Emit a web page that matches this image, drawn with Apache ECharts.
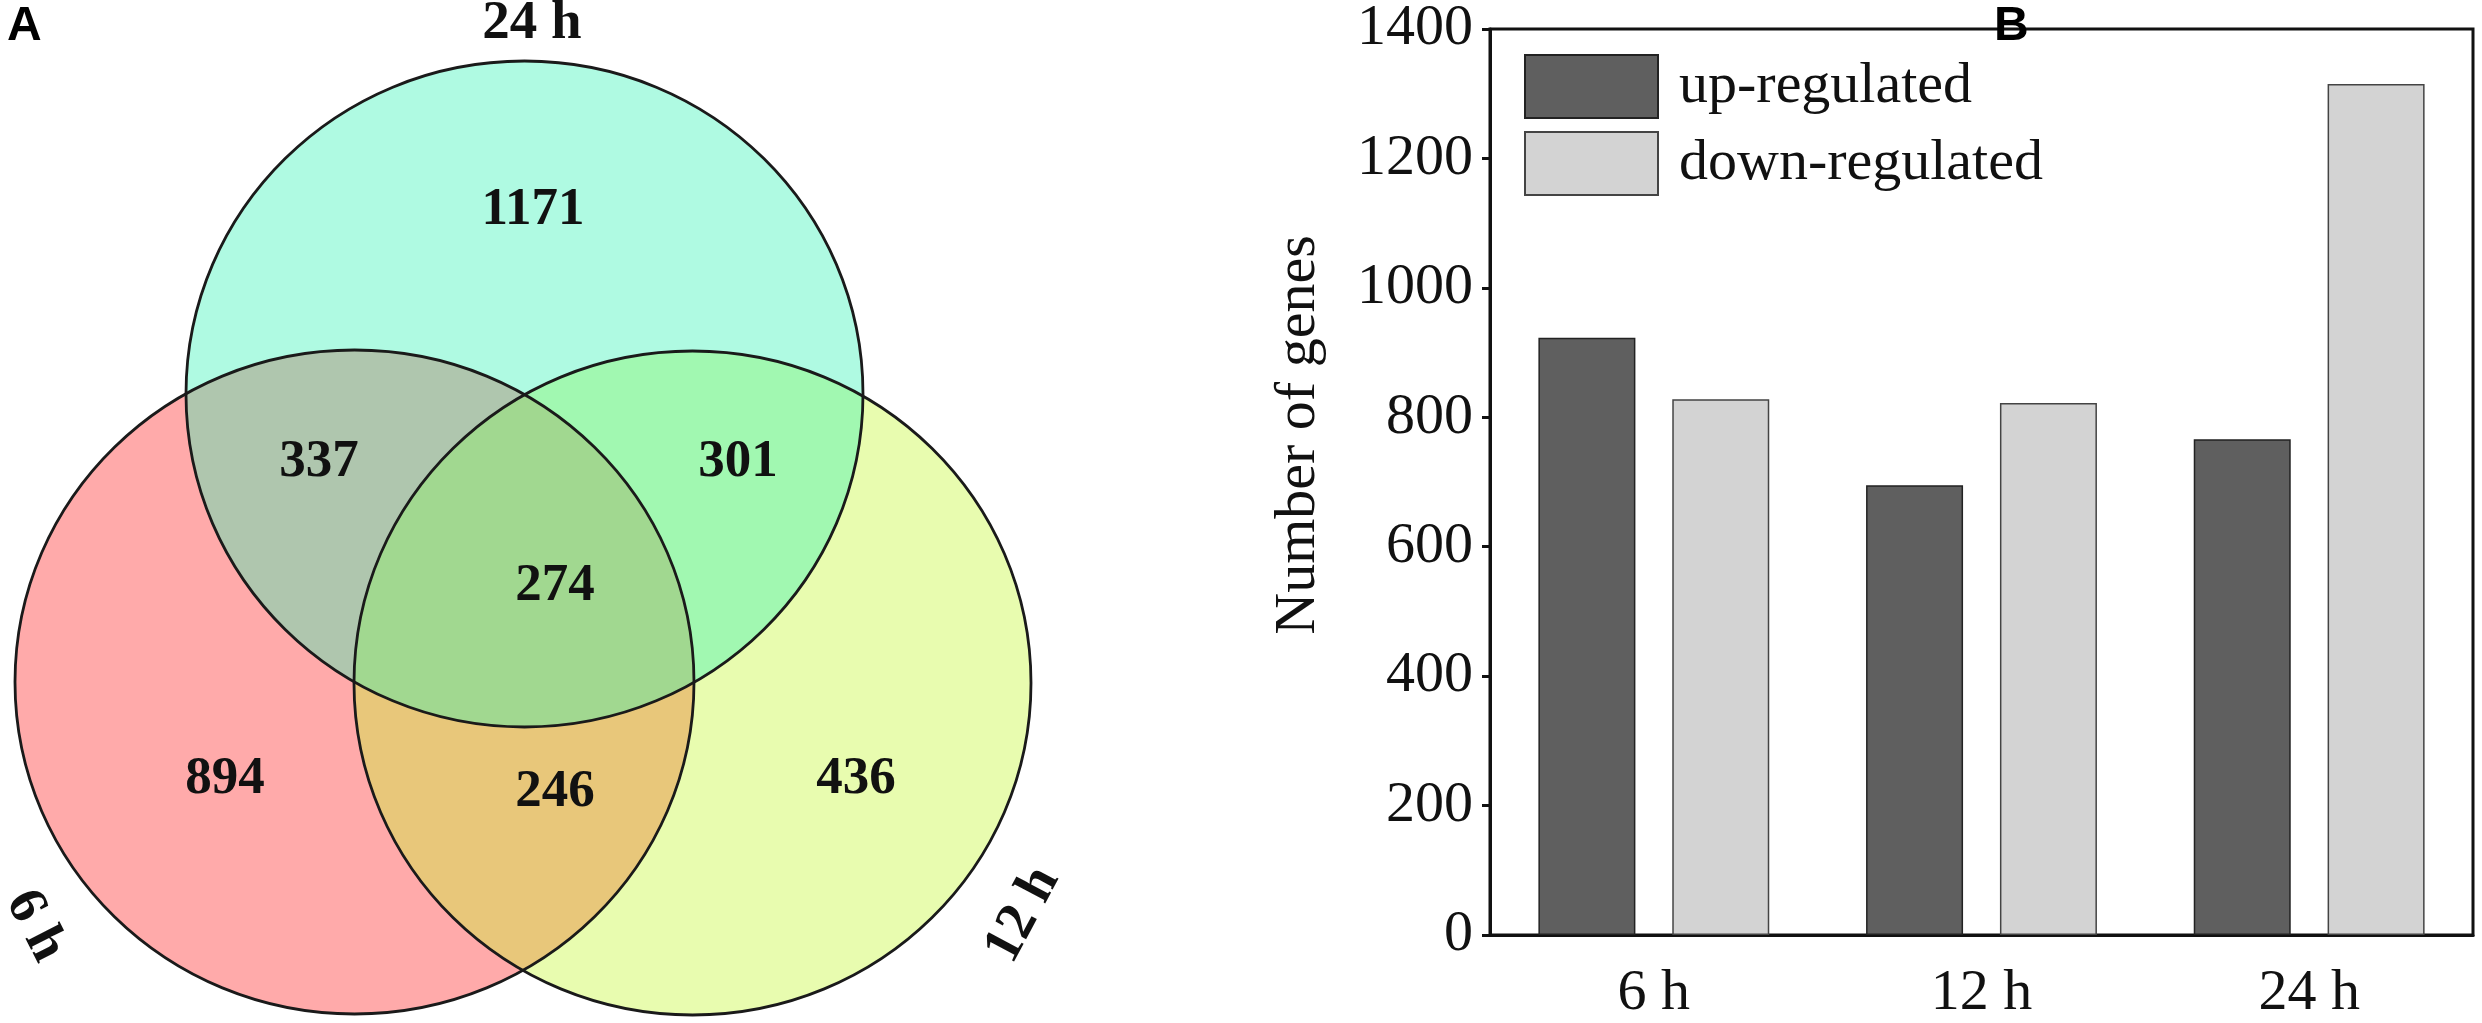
<!DOCTYPE html>
<html>
<head>
<meta charset="utf-8">
<style>
html,body{margin:0;padding:0;background:#fff;}
#chart{width:2482px;height:1023px;}
</style>
<script src="https://cdn.jsdelivr.net/npm/echarts@6/dist/echarts.min.js"></script>
</head>
<body>
<div id="chart"></div>
<script>
// ---------- data ----------
const timeCategories = ['6 h', '12 h', '24 h'];
const upRegulated = [923, 695, 766];
const downRegulated = [828, 822, 1315];
const seriesNames = ['up-regulated', 'down-regulated'];
const yAxisName = 'Number of genes';
const yMin = 0, yMax = 1400, yInterval = 200;

const vennSetNames = ['6 h', '12 h', '24 h'];
const vennRegionNames = ['24 h only', '24 h & 6 h', '24 h & 12 h', '6 h & 12 h & 24 h', '6 h only', '6 h & 12 h', '12 h only'];
const vennRegionCounts = [1171, 337, 301, 274, 894, 246, 436];

// ---------- layout (venn geometry in panel pixel space) ----------
// drawing order: 6 h (bottom), 12 h, 24 h (top)
const vennShapes = [
  { c: [354.5, 682], r: [339.5, 332], fill: 'rgb(255,170,170)', opacity: 1 },
  { c: [692.5, 683], r: [338.5, 332], fill: 'rgb(194,247,45)', opacity: 0.38 },
  { c: [524.5, 394], r: [338.5, 333], fill: 'rgb(50,242,181)', opacity: 0.39 }
];
const vennSetLabelPos = [
  { p: [35, 926], rot: -1.1 },
  { p: [1023, 915], rot: 1.08 },
  { p: [532, 24], rot: 0 }
];
const vennRegionLabelPos = [[533, 210], [319, 462], [738, 462], [555, 586], [225, 779], [555, 792], [856, 779]];

const chart = echarts.init(document.getElementById('chart'), null, { renderer: 'canvas' });
const serif = "'Liberation Serif', 'Times New Roman', serif";

function ellipseItem(params, api, fillMode) {
  const s = vennShapes[params.dataIndex];
  const c = api.coord(s.c);
  const sz = api.size(s.r);
  if (fillMode) {
    return { type: 'ellipse', shape: { cx: c[0], cy: c[1], rx: sz[0], ry: sz[1] },
      style: { fill: s.fill, opacity: s.opacity, stroke: null } };
  }
  return { type: 'ellipse', shape: { cx: c[0], cy: c[1], rx: sz[0], ry: sz[1] },
    style: { fill: null, stroke: '#1a1a1a', lineWidth: 2.8 } };
}

const option = {
  animation: false,
  backgroundColor: '#fff',
  grid: [
    { left: 1490, right: 9, top: 27, bottom: 88, show: true, borderColor: '#111', borderWidth: 3, containLabel: false },
    { left: 0, top: 0, width: 1100, height: 1023, show: false }
  ],
  legend: {
    data: seriesNames,
    orient: 'vertical',
    left: 1524, top: 54,
    padding: 0,
    itemWidth: 133, itemHeight: 63, itemGap: 12,
    icon: 'rect',
    textStyle: { fontFamily: serif, fontSize: 58, color: '#111', padding: [4, 0, 0, 16] }
  },
  xAxis: [
    {
      type: 'category', gridIndex: 0, data: timeCategories,
      axisLine: { lineStyle: { color: '#111', width: 3 } },
      axisTick: { length: 17, lineStyle: { color: '#111', width: 3 } },
      axisLabel: { fontFamily: serif, fontSize: 58, color: '#111', margin: 30 },
      splitLine: { show: false }
    },
    { type: 'value', gridIndex: 1, min: 0, max: 1100, show: false }
  ],
  yAxis: [
    {
      type: 'value', gridIndex: 0, min: yMin, max: yMax, interval: yInterval,
      axisLine: { show: true, lineStyle: { color: '#111', width: 3 } },
      axisTick: { show: true, length: 8, lineStyle: { color: '#111', width: 3 } },
      axisLabel: { fontFamily: serif, fontSize: 58, color: '#111', margin: 17, formatter: (v) => String(v) },
      splitLine: { show: false }
    },
    { type: 'value', gridIndex: 1, min: 0, max: 1023, inverse: true, show: false }
  ],
  graphic: [
    { type: 'text', x: 1299, y: 435, rotation: Math.PI / 2,
      style: { text: yAxisName, font: "58px " + serif, fill: '#111', align: 'center', verticalAlign: 'middle' } },
    { type: 'text', left: 7, top: 3,
      style: { text: 'A', font: "bold 48px 'Liberation Sans', Arial, sans-serif", fill: '#000' } },
    { type: 'text', left: 1994, top: 3,
      style: { text: 'B', font: "bold 48px 'Liberation Sans', Arial, sans-serif", fill: '#000' } }
  ],
  series: [
    {
      name: seriesNames[0], type: 'bar', xAxisIndex: 0, yAxisIndex: 0,
      data: upRegulated, barWidth: 97, barGap: '38%',
      itemStyle: { color: '#5f5f5f', borderColor: '#222', borderWidth: 1.5 }
    },
    {
      name: seriesNames[1], type: 'bar', xAxisIndex: 0, yAxisIndex: 0,
      data: downRegulated, barWidth: 97, barGap: '38%',
      itemStyle: { color: '#d3d3d3', borderColor: '#444', borderWidth: 1.5 }
    },
    {
      name: 'venn-fill', type: 'custom', xAxisIndex: 1, yAxisIndex: 1,
      data: vennSetNames.map((n, i) => ({ name: n, value: [i, i] })),
      renderItem: (params, api) => ellipseItem(params, api, true),
      silent: true, z: 1
    },
    {
      name: 'venn-stroke', type: 'custom', xAxisIndex: 1, yAxisIndex: 1,
      data: vennSetNames.map((n, i) => ({ name: n, value: [i, i] })),
      renderItem: (params, api) => ellipseItem(params, api, false),
      silent: true, z: 2
    },
    {
      name: 'venn-set-labels', type: 'custom', xAxisIndex: 1, yAxisIndex: 1,
      data: vennSetNames.map((n, i) => ({ name: n, value: [i, i] })),
      renderItem: (params, api) => {
        const l = vennSetLabelPos[params.dataIndex];
        const c = api.coord(l.p);
        return { type: 'text', x: c[0], y: c[1], rotation: l.rot,
          style: { text: vennSetNames[params.dataIndex], font: "bold 55px " + serif, fill: '#111', align: 'center', verticalAlign: 'middle' } };
      },
      silent: true, z: 3
    },
    {
      name: 'venn-counts', type: 'custom', xAxisIndex: 1, yAxisIndex: 1,
      data: vennRegionCounts.map((v, i) => ({ name: vennRegionNames[i], value: [i, v] })),
      renderItem: (params, api) => {
        const c = api.coord(vennRegionLabelPos[params.dataIndex]);
        return { type: 'text', x: c[0], y: c[1],
          style: { text: String(vennRegionCounts[params.dataIndex]), font: "bold 53px " + serif, fill: '#111', align: 'center', verticalAlign: 'middle' } };
      },
      silent: true, z: 3
    }
  ]
};
chart.setOption(option);
</script>
</body>
</html>
